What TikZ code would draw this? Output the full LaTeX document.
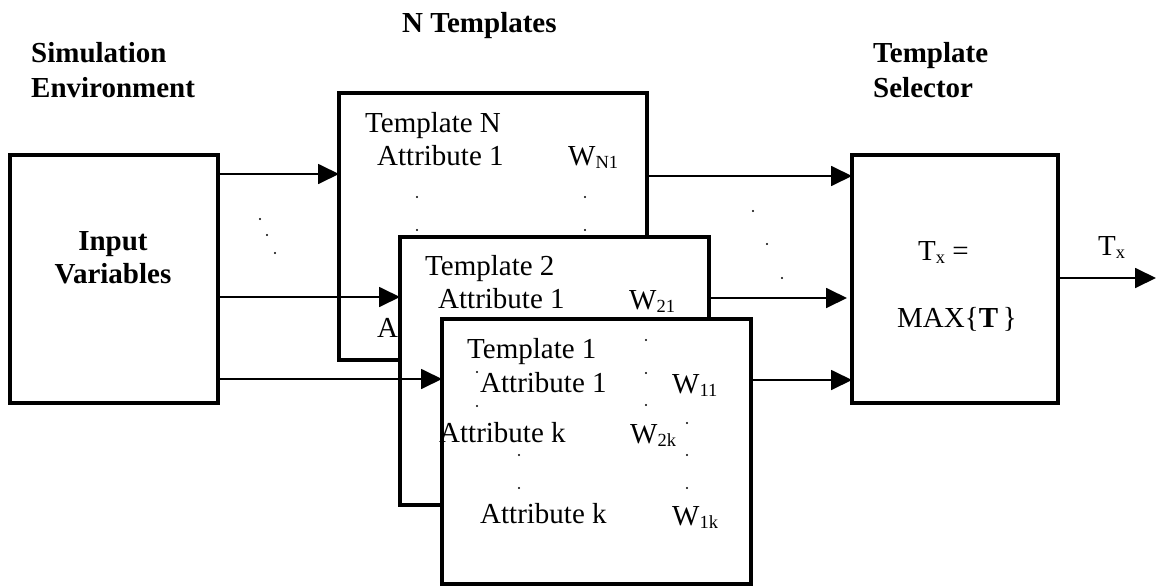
\documentclass[tikz,border=0pt]{standalone}
\usepackage{fontspec}
\setmainfont{Liberation Serif}
\usetikzlibrary{arrows.meta}
\newcommand{\sbs}[1]{\raisebox{-3.5pt}{\fontsize{18.5}{18.5}\selectfont #1}}
\begin{document}
\begin{tikzpicture}[x=1pt,y=-1pt,
  box/.style={draw, line width=4pt, fill=white, inner sep=0pt, outer sep=0pt},
  arr/.style={line width=1.8pt, -{Triangle[length=21pt,width=20pt]}},
  txt/.style={anchor=base west, inner sep=0pt, font=\fontsize{29}{34}\selectfont},
  btxt/.style={anchor=base west, inner sep=0pt, font=\fontsize{29}{34}\selectfont\bfseries},
  ctxt/.style={anchor=base, inner sep=0pt, font=\fontsize{29}{34}\selectfont\bfseries}
]
\useasboundingbox (0,0) rectangle (1156,586);
\newcommand{\dt}[2]{\fill (#1pt,-#2pt) circle (1.2pt);}

% headings
\node[btxt] (h1a) at (31,63) {Simulation};
\node[btxt] (h1b) at (31,97) {Environment};
\node[btxt] (h2) at (402,33) {N Templates};
\node[btxt] (h3a) at (873,63) {Template};
\node[btxt] (h3b) at (873,97) {Selector};

% input box
\node[box, minimum width=208pt, minimum height=248pt] (inp) at (114,279) {};
\node[ctxt] (inpa) at (113,250) {Input};
\node[ctxt] (inpb) at (113,283) {Variables};

% template N
\node[box, minimum width=308pt, minimum height=267pt] (tN) at (493,226.5) {};
\node[txt] (tNa) at (365,132) {Template N};
\node[txt] (tNb) at (377,165) {Attribute 1};
\node[txt] (tNc) at (568,165) {W\sbs{N1}};
\node[txt] (tNd) at (377,337) {Attribute k};
\dt{417}{197}\dt{417}{230}\dt{585}{197}\dt{585}{230}

% template 2 and template 1 boxes
\node[box, minimum width=309pt, minimum height=268pt] (t2) at (554.5,371) {};
\node[box, minimum width=309pt, minimum height=265pt] (t1) at (596.5,451.5) {};

% template 2 text
\node[txt] (t2a) at (425,275) {Template 2};
\node[txt] (t2b) at (438,308) {Attribute 1};
\node[txt] (t2c) at (629,309) {W\sbs{21}};
\node[txt] (t2d) at (439,442) {Attribute k};
\node[txt] (t2e) at (630,443) {W\sbs{2k}};
\dt{477}{372}\dt{477}{406}
\dt{646}{340}\dt{646}{373}\dt{646}{405}

% template 1 text
\node[txt] (t1a) at (467,358) {Template 1};
\node[txt] (t1b) at (480,392) {Attribute 1};
\node[txt] (t1c) at (672,393) {W\sbs{11}};
\node[txt] (t1d) at (480,523) {Attribute k};
\node[txt] (t1e) at (672,525) {W\sbs{1k}};
\dt{519}{455}\dt{519}{488}
\dt{687}{423}\dt{687}{455}\dt{687}{488}

% selector
\node[box, minimum width=206pt, minimum height=248pt] (sel) at (955,279) {};
\node[txt] (sa) at (918,260) {T\sbs{x} =};
\node[txt] (sb) at (897,327) {MAX\{\textbf{T}\,\}};
\node[txt] (ox) at (1098,255) {T\sbs{x}};
\coordinate (out) at (1156,278);

% arrows in
\draw[arr] (inp.east |- 0,174) -- (tN.west |- 0,174);
\draw[arr] (inp.east |- 0,297) -- (t2.west |- 0,297);
\draw[arr] (inp.east |- 0,379) -- (t1.west |- 0,379);
% arrows out
\draw[arr] (tN.east |- 0,176) -- (sel.west |- 0,176);
\draw[arr] (t2.east |- 0,298) -- ([xshift=-5pt]sel.west |- 0,298);
\draw[arr] (t1.east |- 0,380) -- (sel.west |- 0,380);
\draw[arr] (sel.east |- out) -- (out);

% ellipsis dots
\dt{260}{219}\dt{267}{235}\dt{275}{253}
\dt{753}{211}\dt{767}{244}\dt{782}{278}
\end{tikzpicture}
\end{document}
